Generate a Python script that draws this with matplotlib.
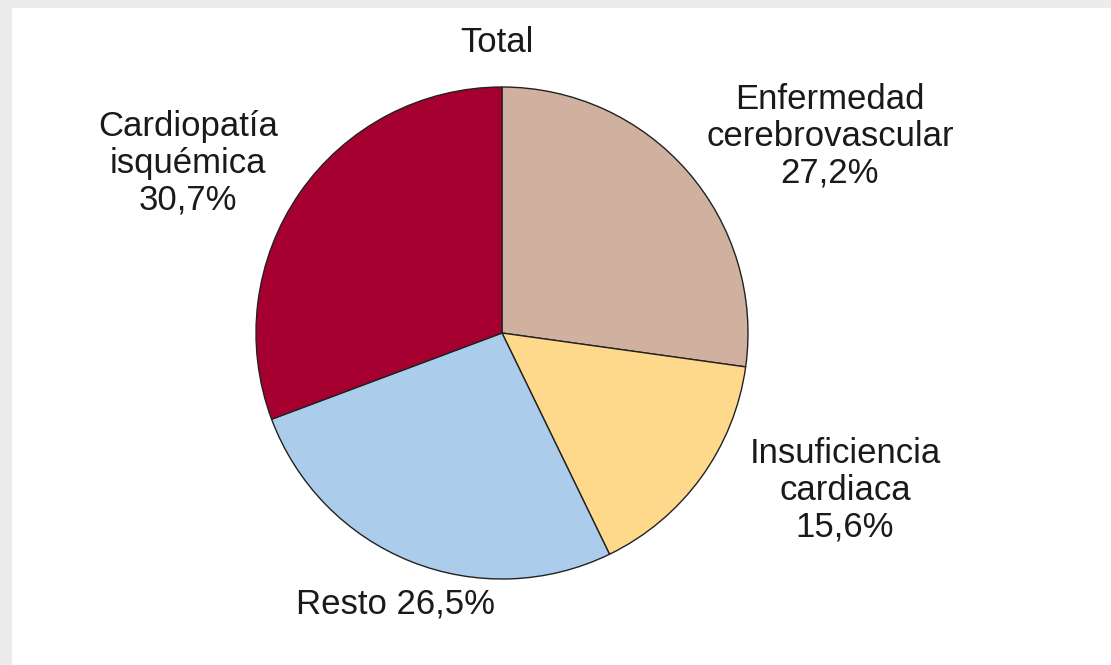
import matplotlib.pyplot as plt
from matplotlib.patches import Rectangle

labels = ['Enfermedad\ncerebrovascular\n27,2%', 'Insuficiencia\ncardiaca\n15,6%',
          'Resto 26,5%', 'Cardiopatía\nisquémica\n30,7%']
values = [27.2, 15.6, 26.5, 30.7]
colors = ['#d0b09e', '#fed98c', '#abcdeb', '#a60030']

plt.rcParams['font.family'] = ['Liberation Sans Narrow', 'Liberation Sans', 'DejaVu Sans']

W, H = 1111, 665
fig = plt.figure(figsize=(W / 100, H / 100), dpi=100, facecolor='#ececec')
ax = fig.add_axes([0, 0, 1, 1])
ax.add_patch(Rectangle((12, 0), W - 12, H - 8, facecolor='white', edgecolor='none', zorder=0))

ax.pie(values, colors=colors, startangle=90, counterclock=False,
       center=(502, H - 333), radius=246, frame=True,
       wedgeprops=dict(edgecolor='#222222', linewidth=1.0))
ax.set_xlim(0, W)
ax.set_ylim(0, H)
ax.set_aspect('equal')
ax.axis('off')

label_pos = [(830, H - 136), (845, H - 490), (395, H - 604), (188, H - 163)]
for (x, y), lab in zip(label_pos, labels):
    ax.text(x, y, lab, ha='center', va='center', fontsize=25, linespacing=1.15, color='#1a1a1a')
ax.text(497, H - 42, 'Total', ha='center', va='center', fontsize=25, color='#1a1a1a')

fig.savefig('out.png', dpi=100, facecolor=fig.get_facecolor())
